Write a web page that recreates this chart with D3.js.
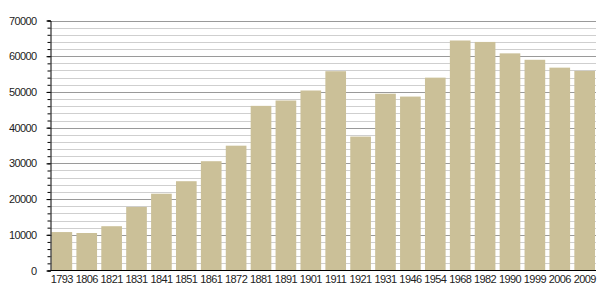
<!DOCTYPE html>
<html>
<head>
<meta charset="utf-8">
<script src="https://cdn.jsdelivr.net/npm/d3@7"></script>
<style>
  body { margin: 0; background: #fff; }
  text { font-family: "Liberation Sans", Arial, sans-serif; }
</style>
</head>
<body>
<div id="chart"></div>
<script>
// census years and population
var years = ["1793","1806","1821","1831","1841","1851","1861","1872","1881","1891","1901",
  "1911","1921","1931","1946","1954","1968","1982","1990","1999","2006","2009"];
var population = [10760, 10500, 12400, 17800, 21500, 25000, 30600, 34950, 46100, 47600, 50400,
  55800, 37500, 49500, 48700, 54000, 64400, 64000, 60800, 59000, 56800, 55900];
var yTicks = [0, 10000, 20000, 30000, 40000, 50000, 60000, 70000];

var width = 605, height = 300;
var plotLeft = 50.5, plotRight = 596, plotTop = 20.5, plotBottom = 270.5;

var svg = d3.select("#chart").append("svg")
  .attr("width", width)
  .attr("height", height);

var x = d3.scaleBand()
  .domain(years)
  .range([plotLeft, plotRight])
  .paddingInner(0.17)
  .paddingOuter(0.04);

var y = d3.scaleLinear()
  .domain([0, 70000])
  .range([plotBottom, plotTop]);

// gridlines every 2000, darker every 10000
var minor = d3.range(2000, 70001, 2000);
svg.append("g")
  .selectAll("line")
  .data(minor)
  .enter()
  .append("line")
  .attr("x1", plotLeft)
  .attr("x2", plotRight)
  .attr("y1", d => Math.round(y(d)) + 0.5)
  .attr("y2", d => Math.round(y(d)) + 0.5)
  .attr("stroke", d => d % 10000 === 0 ? "#9a9a9a" : "#cfcfcf")
  .attr("stroke-width", 1);

// bars
svg.append("g")
  .selectAll("rect")
  .data(population)
  .enter()
  .append("rect")
  .attr("x", (d, i) => x(years[i]))
  .attr("width", x.bandwidth())
  .attr("y", d => y(d))
  .attr("height", d => plotBottom - y(d))
  .attr("fill", "#cbc098");

// y axis with minor ticks
svg.append("g")
  .attr("transform", "translate(" + plotLeft + ",0)")
  .call(d3.axisLeft(y).tickValues(minor.concat([0])).tickSize(3).tickFormat(""))
  .call(g => g.select(".domain").attr("stroke", "#000"))
  .call(g => g.selectAll(".tick line").attr("stroke", "#000"));

svg.append("g")
  .attr("transform", "translate(" + plotLeft + ",0)")
  .call(d3.axisLeft(y).tickValues(yTicks).tickSize(4).tickPadding(10).tickFormat(d3.format("d")))
  .call(g => g.select(".domain").remove())
  .call(g => g.selectAll(".tick line").attr("stroke", "#000"))
  .call(g => g.selectAll(".tick text").attr("fill", "#222")
    .style("font-size", "11px").style("letter-spacing", "-0.6px"));

// x axis
svg.append("g")
  .attr("transform", "translate(0," + plotBottom + ")")
  .call(d3.axisBottom(x).tickSize(0).tickPadding(5))
  .call(g => g.select(".domain").attr("stroke", "#000").attr("d", "M" + plotLeft + ",0H" + plotRight))
  .call(g => g.selectAll(".tick text").attr("fill", "#222")
    .style("font-size", "11px").style("letter-spacing", "-0.6px"));
</script>
</body>
</html>
